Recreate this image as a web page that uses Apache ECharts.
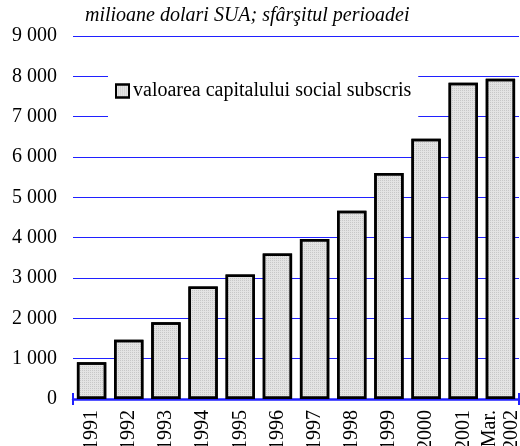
<!DOCTYPE html>
<html>
<head>
<meta charset="utf-8">
<script src="https://cdn.jsdelivr.net/npm/echarts@6/dist/echarts.min.js"></script>
<style>
  html, body { margin: 0; padding: 0; background: #fff; }
  #chart { width: 520px; height: 446px; }
</style>
</head>
<body>
<div id="chart"></div>
<script>
// capitalul social subscris, milioane dolari SUA
var years = ["1991", "1992", "1993", "1994", "1995", "1996", "1997", "1998", "1999", "2000", "2001", "Mar.\n2002"];
var capital = [910, 1470, 1900, 2790, 3085, 3605, 3970, 4670, 5605, 6455, 7840, 7940];
var yTicks = ["0", "1 000", "2 000", "3 000", "4 000", "5 000", "6 000", "7 000", "8 000", "9 000"];

var serif = "Liberation Serif";
var blue = "#2020ff";

var chart = echarts.init(document.getElementById("chart"));
chart.setOption({
  animation: false,
  title: {
    text: "milioane dolari SUA; sfârşitul perioadei",
    left: 85,
    top: 6,
    padding: 0,
    textStyle: {
      fontFamily: serif,
      fontStyle: "italic",
      fontWeight: "normal",
      fontSize: 20,
      color: "#000"
    }
  },
  legend: {
    left: 108,
    top: 72,
    padding: [9, 7, 30, 7],
    backgroundColor: "#fff",
    itemWidth: 13,
    itemHeight: 13,
    itemGap: 4,
    icon: "rect",
    itemStyle: {
      color: "#e3e3e3",
      borderColor: "#000",
      borderWidth: 2
    },
    textStyle: {
      fontFamily: serif,
      fontSize: 20,
      color: "#000",
      padding: [0, 0, 0, -1]
    },
    data: ["valoarea capitalului social subscris"]
  },
  grid: {
    left: 73,
    right: 1,
    top: 36,
    bottom: 47,
    outerBoundsMode: "none"
  },
  xAxis: [
    {
      type: "category",
      data: years,
      axisLine: { lineStyle: { color: blue, width: 2.5 } },
      axisTick: { show: false },
      axisLabel: {
        rotate: 90,
        margin: 11,
        fontFamily: serif,
        fontSize: 20,
        lineHeight: 22,
        color: "#000"
      }
    },
    {
      // capetele axei (jos)
      type: "value",
      position: "bottom",
      min: 0,
      max: 1,
      interval: 1,
      axisLine: { show: false },
      axisTick: { show: true, length: 6, lineStyle: { color: blue, width: 2 } },
      axisLabel: { show: false },
      splitLine: { show: false }
    },
    {
      // capetele axei (sus)
      type: "value",
      position: "bottom",
      min: 0,
      max: 1,
      interval: 1,
      axisLine: { show: false },
      axisTick: { show: true, inside: true, length: 6, lineStyle: { color: blue, width: 2 } },
      axisLabel: { show: false },
      splitLine: { show: false }
    }
  ],
  yAxis: {
    type: "value",
    min: 0,
    max: 9000,
    interval: 1000,
    axisLine: { show: false },
    axisTick: { show: false },
    axisLabel: {
      margin: 16,
      fontFamily: serif,
      fontSize: 20,
      color: "#000",
      formatter: function (v) { return yTicks[Math.round(v / 1000)]; }
    },
    splitLine: { lineStyle: { color: blue, width: 1 } }
  },
  series: [
    {
      name: "valoarea capitalului social subscris",
      type: "bar",
      data: capital,
      barCategoryGap: "21%",
      itemStyle: {
        color: "#e3e3e3",
        borderColor: "#000",
        borderWidth: 2.5,
        decal: {
          symbol: "rect",
          symbolSize: 1,
          dashArrayX: [1, 1],
          dashArrayY: [1, 1],
          color: "rgba(0,0,0,0.12)"
        }
      }
    }
  ]
});
</script>
</body>
</html>
